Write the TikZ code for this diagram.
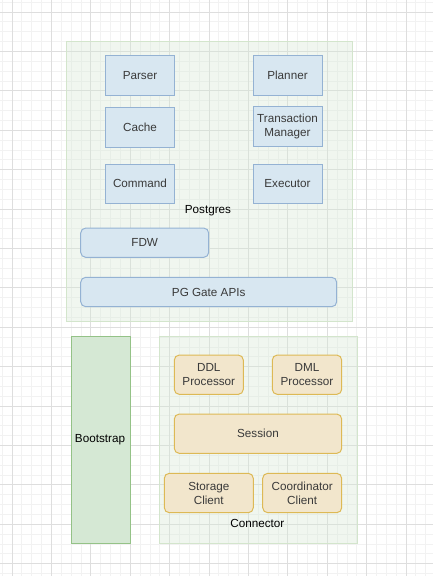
\documentclass[tikz,border=0pt]{standalone}
\usepackage{fontspec}
\setmainfont{Liberation Sans}
\begin{document}
\definecolor{gridmajor}{HTML}{DEDEDE}
\definecolor{gridminor}{HTML}{F2F2F2}
\definecolor{contfill}{HTML}{D5E8D4}
\definecolor{contline}{HTML}{D3E5CC}
\definecolor{bluefill}{HTML}{D8E7F1}
\definecolor{blueline}{HTML}{94B2D3}
\definecolor{orfill}{HTML}{F2E6CC}
\definecolor{orline}{HTML}{DDB955}
\definecolor{grfill}{HTML}{D5E8D4}
\definecolor{grline}{HTML}{94C287}
\definecolor{boxtext}{HTML}{3A3A3A}
\begin{tikzpicture}[x=1pt,y=-1pt,
  every node/.style={font=\fontsize{11.7}{14}\selectfont, inner sep=0pt, align=center},
  container/.style={draw=contline, fill=contfill, fill opacity=0.35, draw opacity=1, line width=0.8pt, anchor=north west},
  bluebox/.style={draw=blueline, fill=bluefill, line width=1pt, text=boxtext},
  bluerbox/.style={bluebox, rounded corners=5pt},
  orbox/.style={draw=orline, fill=orfill, line width=1pt, text=boxtext, rounded corners=5pt},
  grbox/.style={draw=grline, fill=grfill, line width=1pt, anchor=north west},
  lbl/.style={text=black}
]
\useasboundingbox (0,0) rectangle (433,576);
\fill[white] (0,0) rectangle (433,576);
% grid
\foreach \i in {-1,...,44} {
  \draw[gridminor, line width=0.8pt] ({12+\i*9.85},0) -- ({12+\i*9.85},576);
}
\foreach \i in {-1,...,58} {
  \draw[gridminor, line width=0.8pt] (0,{12+\i*9.85}) -- (433,{12+\i*9.85});
}
\foreach \i in {0,...,11} {
  \draw[gridmajor, line width=0.8pt] ({12+\i*39.4},0) -- ({12+\i*39.4},576);
}
\foreach \i in {0,...,14} {
  \draw[gridmajor, line width=0.8pt] (0,{12+\i*39.4}) -- (433,{12+\i*39.4});
}
% Postgres container
\node[container, minimum width=286pt, minimum height=280pt] (postgres) at (66,41) {};
\node[lbl] (postgreslbl) at (208,211) {Postgres};
\node[bluebox, minimum width=69.5pt, minimum height=39.5pt] (parser) at (140,75.5) {Parser};
\node[bluebox, minimum width=69pt, minimum height=39.5pt] (planner) at (287.5,75.5) {Planner};
\node[bluebox, minimum width=69.5pt, minimum height=39.5pt] (cache) at (140,127.5) {Cache};
\node[bluebox, minimum width=69pt, minimum height=40pt] (txn) at (287.5,126.3) {Transaction\\Manager};
\node[bluebox, minimum width=69.5pt, minimum height=39.3pt] (command) at (140,183.7) {Command};
\node[bluebox, minimum width=69pt, minimum height=39.3pt] (executor) at (287.5,183.7) {Executor};
\node[bluerbox, minimum width=128pt, minimum height=29.3pt] (fdw) at (144.7,242.7) {FDW};
\node[bluerbox, minimum width=256pt, minimum height=29.4pt] (pgapi) at (208.7,292) {PG Gate APIs};
% Bootstrap
\node[grbox, minimum width=59.6pt, minimum height=207.3pt] (bootstrap) at (70.7,336) {};
\node[lbl] (bootstraplbl) at (100,440) {Bootstrap};
% Connector container
\node[container, minimum width=197.4pt, minimum height=207.3pt] (connector) at (159.3,336) {};
\node[lbl] (connectorlbl) at (257.3,523.5) {Connector};
\node[orbox, minimum width=69pt, minimum height=39.3pt] (ddl) at (208.8,374.7) {DDL\\Processor};
\node[orbox, minimum width=69.4pt, minimum height=39.3pt] (dml) at (307,374.7) {DML\\Processor};
\node[orbox, minimum width=167.4pt, minimum height=39.3pt] (session) at (258,433.7) {Session};
\node[orbox, minimum width=89pt, minimum height=39.4pt] (storage) at (208.8,493) {Storage\\Client};
\node[orbox, minimum width=79pt, minimum height=39.4pt] (coord) at (302.2,493) {Coordinator\\Client};
\end{tikzpicture}
\end{document}
